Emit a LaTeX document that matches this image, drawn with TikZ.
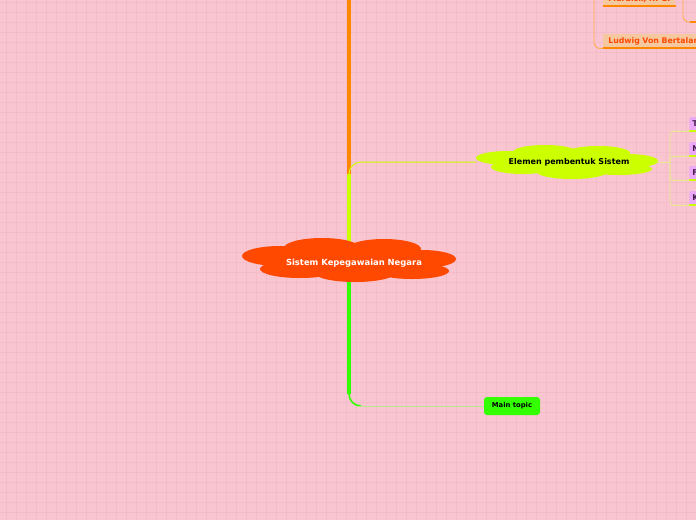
\documentclass[tikz,border=0pt]{standalone}
\usepackage{fontspec}
\setmainfont{DejaVu Sans}
\usepackage{tikz}
\usetikzlibrary{calc,positioning}
\definecolor{bgpink}{RGB}{249,197,208}
\definecolor{gridpink}{RGB}{244,188,201}
\definecolor{rootred}{RGB}{255,72,0}
\definecolor{elemyellow}{RGB}{204,255,0}
\definecolor{topicgreen}{RGB}{51,255,0}
\definecolor{palegreen}{RGB}{184,232,144}
\definecolor{paleyellow}{RGB}{232,232,140}
\definecolor{branchorange}{RGB}{255,136,0}
\definecolor{peach}{RGB}{246,200,160}
\definecolor{leafpurple}{RGB}{234,168,246}
\definecolor{leafink}{RGB}{70,30,80}

\begin{document}
\begin{tikzpicture}[x=1pt, y=-1pt, semithick,
    thickstem/.style={line width=3.5pt},
    thinstem/.style={line width=1pt, rounded corners=12pt},
    bracket/.style={draw=paleyellow, line width=0.9pt, rounded corners=4pt},
    bookbox/.style={fill=peach, text=rootred, anchor=west, font=\bfseries\fontsize{7.8}{9}\selectfont, minimum height=14pt, inner xsep=5pt},
    leafbox/.style={fill=leafpurple, text=leafink, anchor=west, rounded corners=2pt, font=\bfseries\fontsize{8}{9}\selectfont, minimum height=14pt, text width=22pt, inner xsep=3pt}]

    % background and grid
    \fill[bgpink] (0,0) rectangle (696,520);
    \clip (0,0) rectangle (696,520);
    \foreach \gx in {6,16,...,696} \draw[gridpink, line width=0.5pt] (\gx,0) -- (\gx,520);
    \foreach \gy in {2,12,...,520} \draw[gridpink, line width=0.5pt] (0,\gy) -- (696,\gy);

    % top right branch
    \node[bookbox, minimum width=70pt] (murdick) at (603,-1) {Murdick, R. G.};
    \node[bookbox, minimum width=120pt, text width=110pt] (ludwig) at (603,41) {Ludwig Von Bertalanffy};
    \draw[branchorange, line width=2pt] (murdick.south west) -- (murdick.south east);
    \draw[branchorange, line width=2pt] (ludwig.south west) -- (ludwig.south east);
    \coordinate (obranch) at (594,-10);
    \coordinate (ochild) at (700,22);
    \draw[branchorange!70, line width=0.9pt, rounded corners=6pt] (obranch) |- (ludwig.south west);
    \draw[branchorange!70, line width=0.9pt, rounded corners=6pt] (683,-10) |- (ochild);
    \draw[branchorange, line width=2pt] (690,22) -- (ochild);

    % stems from the centre
    \coordinate (hub) at (349,263);
    \coordinate (otop) at (349,-10);
    \draw[branchorange, thickstem] (otop) -- (349,176);
    \draw[elemyellow, thickstem] (hub) -- (349,174);
    \draw[elemyellow, thinstem] (349,185) |- (476,162);
    \draw[topicgreen, thickstem] (hub) -- (349,394);
    \draw[topicgreen, line width=1.6pt, rounded corners=12pt] (349,385) |- (361,406);

    % clouds
    \fill[rootred] (280,256) ellipse (38 and 10);
    \fill[rootred] (322,248) ellipse (38 and 10);
    \fill[rootred] (384,249) ellipse (37 and 10);
    \fill[rootred] (422,259) ellipse (34 and 9);
    \fill[rootred] (300,269) ellipse (40 and 9);
    \fill[rootred] (355,273) ellipse (40 and 9);
    \fill[rootred] (412,271) ellipse (37 and 8);
    \fill[rootred] (274,252) rectangle (426,270);

    \fill[elemyellow] (508,158) ellipse (32 and 7);
    \fill[elemyellow] (545,152) ellipse (32 and 7);
    \fill[elemyellow] (598,153) ellipse (32 and 7);
    \fill[elemyellow] (628,161) ellipse (30 and 7);
    \fill[elemyellow] (523,167) ellipse (32 and 7);
    \fill[elemyellow] (572,172) ellipse (35 and 7);
    \fill[elemyellow] (618,169) ellipse (34 and 6);
    \fill[elemyellow] (502,154) rectangle (636,170);

    \node[text=white, font=\bfseries\fontsize{8.4}{10}\selectfont] (root) at (354,263) {Sistem Kepegawaian Negara};
    \node[font=\bfseries\fontsize{8}{10}\selectfont, minimum width=178pt, minimum height=30pt] (elemen) at (569,162) {Elemen pembentuk Sistem};
    \node[fill=topicgreen, rounded corners=3pt, font=\bfseries\fontsize{6.8}{8}\selectfont, minimum width=56pt, minimum height=18pt, inner sep=0pt] (maintopic) at (512,406) {Main topic};
    \draw[palegreen, line width=1pt] (357,406) -- (maintopic.west);

    % leaves of Elemen pembentuk Sistem
    \node[leafbox] (leaft) at (689,124) {T};
    \node[leafbox] (leafn) at (689,149) {N};
    \node[leafbox] (leaff) at (689,173) {F};
    \node[leafbox] (leafk) at (689,198) {K};
    \foreach \leaf in {leaft,leafn,leaff,leafk}
        \draw[elemyellow, line width=2pt] (\leaf.south west) -- (\leaf.south east);
    \coordinate (ebr) at (670,162);
    \draw[bracket] (elemen.east) -- (ebr);
    \foreach \leaf in {leaft,leafn,leaff,leafk}
        \draw[bracket] (ebr) |- (\leaf.south west);

\end{tikzpicture}
\end{document}
